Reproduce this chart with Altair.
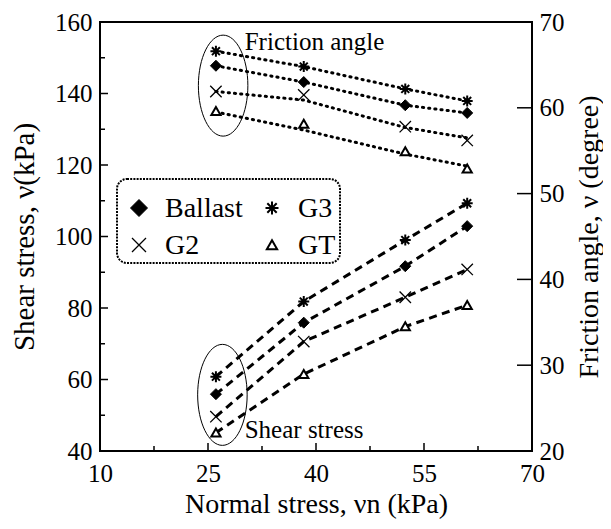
import altair as alt
import pandas as pd

SERIF = "Liberation Serif, Times New Roman, serif"

SERIES = ["Ballast", "G3", "G2", "GT"]
NORMAL_STRESS = [26.1, 38.3, 52.4, 61.0]

# Shear stress (kPa), left axis
SHEAR_BALLAST = [55.9, 75.9, 91.7, 102.9]
SHEAR_G3 = [60.8, 81.8, 99.0, 109.3]
SHEAR_G2 = [49.6, 70.6, 83.0, 90.8]
SHEAR_GT = [45.1, 61.5, 74.8, 80.8]

# Friction angle (degree), right axis - measured points
FRIC_BALLAST = [64.9, 63.0, 60.3, 59.4]
FRIC_G3 = [66.6, 64.8, 62.2, 60.8]
FRIC_G2 = [61.9, 61.5, 57.8, 56.2]
FRIC_GT = [59.6, 58.1, 54.9, 52.9]

# Friction angle trend lines (dotted)
FRIC_LINE_BALLAST = [64.9, 63.0, 60.3, 59.4]
FRIC_LINE_G3 = [66.6, 64.8, 62.2, 60.8]
FRIC_LINE_G2 = [61.9, 60.9, 57.7, 56.5]
FRIC_LINE_GT = [59.5, 57.4, 54.6, 53.2]

X_TICKS = [10, 25, 40, 55, 70]
X_MINOR = [17.5, 32.5, 47.5, 62.5]
LEFT_TICKS = [40, 60, 80, 100, 120, 140, 160]
LEFT_MINOR = [50, 70, 90, 110, 130, 150]
RIGHT_TICKS = [20, 30, 40, 50, 60, 70]

ANNOT_TEXT = ["Friction angle", "Shear stress"]
ANNOT_X = [30.1, 30.1]
ANNOT_Y = [152.2, 43.6]
ELLIPSE_X = [27.1, 27.0]
ELLIPSE_Y = [142.2, 55.7]

W, H = 432, 429

shear = {"Ballast": SHEAR_BALLAST, "G3": SHEAR_G3, "G2": SHEAR_G2, "GT": SHEAR_GT}
fric = {"Ballast": FRIC_BALLAST, "G3": FRIC_G3, "G2": FRIC_G2, "GT": FRIC_GT}
fric_line = {"Ballast": FRIC_LINE_BALLAST, "G3": FRIC_LINE_G3, "G2": FRIC_LINE_G2, "GT": FRIC_LINE_GT}


def long(d):
    rows = []
    for s in SERIES:
        for x, v in zip(NORMAL_STRESS, d[s]):
            rows.append({"series": s, "x": x, "v": v})
    return pd.DataFrame(rows)


shear_df = long(shear)
fric_df = long(fric)
fric_line_df = long(fric_line)

ASTER = "M0,-1L0,1M-1,0L1,0M-0.72,-0.72L0.72,0.72M-0.72,0.72L0.72,-0.72"
XMARK = "M-1,-1L1,1M-1,1L1,-1"
TRI = "M0,-0.85L0.92,0.75L-0.92,0.75Z"
ELLIPSE = "M0,-1C0.27,-1,0.49,-0.55,0.49,0C0.49,0.55,0.27,1,0,1C-0.27,1,-0.49,0.55,-0.49,0C-0.49,-0.55,-0.27,-1,0,-1Z"

STYLE = {
    "Ballast": dict(shape="diamond", filled=True, fill="black", strokeWidth=1, size=121, lsize=289),
    "G3": dict(shape=ASTER, filled=False, strokeWidth=2, size=121, lsize=169),
    "G2": dict(shape=XMARK, filled=False, strokeWidth=1.3, size=130, lsize=196),
    "GT": dict(shape=TRI, filled=False, fill="white", strokeWidth=2, size=100, lsize=125),
}

xs = alt.Scale(domain=[10, 70], nice=False, zero=False)
yl = alt.Scale(domain=[40, 160], nice=False, zero=False)
yr = alt.Scale(domain=[20, 70], nice=False, zero=False)

x_axis = alt.Axis(orient="bottom", values=X_TICKS, ticks=False, tickSize=0, domain=False, grid=False,
                  labelFont=SERIF, labelFontSize=25, labelColor="black", labelPadding=10,
                  labelFlush=False, labelOverlap=False, format="d",
                  title="Normal stress, νn (kPa)", titleFont=SERIF, titleFontSize=28,
                  titleFontWeight="normal", titleColor="black", titlePadding=4)
yl_axis = alt.Axis(orient="left", values=LEFT_TICKS, ticks=False, tickSize=0, domain=False, grid=False,
                   labelFont=SERIF, labelFontSize=25, labelColor="black", labelPadding=8,
                   labelOverlap=False, format="d",
                   title="Shear stress, ν(kPa)", titleFont=SERIF, titleFontSize=29,
                   titleFontWeight="normal", titleColor="black", titlePadding=15)
yr_axis = alt.Axis(orient="right", values=RIGHT_TICKS, ticks=False, tickSize=0, domain=False,
                   grid=False, labelFont=SERIF, labelFontSize=25, labelColor="black",
                   labelPadding=7, labelOverlap=False, format="d",
                   title="Friction angle, ν (degree)", titleFont=SERIF, titleFontSize=28,
                   titleFontWeight="normal", titleColor="black", titlePadding=11,
                   titleAngle=270, titleBaseline="top")

# x is shared: every layer carries the identical axis spec so the merge keeps it
X = alt.X("x:Q", scale=xs, axis=x_axis)
YL = alt.Y("v:Q", scale=yl, axis=None)
YR = alt.Y("v:Q", scale=yr, axis=None)


def point_kw(s, legend=False):
    st = STYLE[s]
    kw = dict(shape=st["shape"], filled=st["filled"], size=st["lsize"] if legend else st["size"],
              stroke="black", strokeWidth=st["strokeWidth"], opacity=1)
    if "fill" in st:
        kw["fill"] = st["fill"]
    return kw


layers = []
# shear stress dashed lines (left y axis)
layers.append(
    alt.Chart(shear_df).mark_line(color="black", strokeWidth=3, strokeDash=[8, 5.5]).encode(
        x=X, y=alt.Y("v:Q", scale=yl, axis=yl_axis), detail="series:N")
)
# friction angle dotted lines (right y axis)
layers.append(
    alt.Chart(fric_line_df).mark_line(color="black", strokeWidth=3, strokeDash=[1.2, 5],
                                       strokeCap="round").encode(
        x=X, y=alt.Y("v:Q", scale=yr, axis=yr_axis), detail="series:N")
)
for s in SERIES:
    layers.append(alt.Chart(shear_df[shear_df.series == s]).mark_point(**point_kw(s)).encode(x=X, y=YL))
    layers.append(alt.Chart(fric_df[fric_df.series == s]).mark_point(**point_kw(s)).encode(x=X, y=YR))

# inward ticks
layers.append(alt.Chart(pd.DataFrame({"v": LEFT_TICKS})).mark_rule(color="black", strokeWidth=1.5)
              .encode(y=YL, x=alt.value(0), x2=alt.value(8)))
layers.append(alt.Chart(pd.DataFrame({"v": LEFT_MINOR})).mark_rule(color="black", strokeWidth=1.5)
              .encode(y=YL, x=alt.value(0), x2=alt.value(5)))
layers.append(alt.Chart(pd.DataFrame({"x": X_TICKS})).mark_rule(color="black", strokeWidth=1.5)
              .encode(x=X, y=alt.value(H), y2=alt.value(H - 8)))
layers.append(alt.Chart(pd.DataFrame({"x": X_MINOR})).mark_rule(color="black", strokeWidth=1.5)
              .encode(x=X, y=alt.value(H), y2=alt.value(H - 5)))
layers.append(alt.Chart(pd.DataFrame({"v": RIGHT_TICKS})).mark_rule(color="black", strokeWidth=1.5)
              .encode(y=YR, x=alt.value(W), x2=alt.value(W - 15)))

# ellipses
layers.append(
    alt.Chart(pd.DataFrame({"x": ELLIPSE_X, "v": ELLIPSE_Y})).mark_point(
        shape=ELLIPSE, size=10201, filled=False, stroke="black", strokeWidth=1, opacity=1
    ).encode(x=X, y=YL)
)
# annotation texts
layers.append(
    alt.Chart(pd.DataFrame({"x": ANNOT_X, "v": ANNOT_Y, "t": ANNOT_TEXT})).mark_text(
        font=SERIF, fontSize=25, align="left", baseline="alphabetic", color="black"
    ).encode(x=X, y=YL, text="t:N")
)

# manual legend
layers.append(
    alt.Chart(pd.DataFrame({"a": [0]})).mark_rect(
        fill="white", stroke="black", strokeWidth=2, strokeDash=[2, 1.2], cornerRadius=10
    ).encode(x=alt.value(17), x2=alt.value(240), y=alt.value(157), y2=alt.value(241))
)
LEG_COL_X = [39, 172]
LEG_ROW_Y = [186, 223]
for i, s in enumerate(SERIES):
    cx = LEG_COL_X[i % 2]
    cy = LEG_ROW_Y[i // 2]
    layers.append(alt.Chart(pd.DataFrame({"label": [s]})).mark_point(**point_kw(s, legend=True))
                  .encode(x=alt.value(cx), y=alt.value(cy)))
    layers.append(alt.Chart(pd.DataFrame({"label": [s]})).mark_text(
        font=SERIF, fontSize=28, align="left", baseline="middle", color="black")
        .encode(x=alt.value(cx + 26), y=alt.value(cy + 1), text="label:N"))

chart = alt.layer(*layers).resolve_scale(y="independent").properties(
    width=W, height=H,
    autosize=alt.AutoSizeParams(type="none"),
    padding={"left": 92, "top": 14, "right": 71, "bottom": 70},
    background="white",
).configure_view(stroke="black", strokeWidth=2)

chart.save("out.html", embed_options={"renderer": "svg", "actions": False})
